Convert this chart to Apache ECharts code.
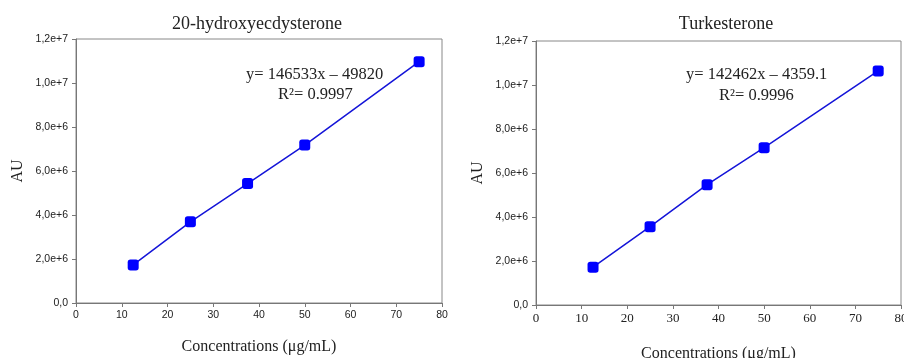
<!DOCTYPE html>
<html>
<head>
<meta charset="utf-8">
<script src="https://cdn.jsdelivr.net/npm/echarts@6/dist/echarts.min.js"></script>
<style>
  html, body { margin: 0; padding: 0; background: #fff; }
  #chart { width: 904px; height: 358px; }
</style>
</head>
<body>
<div id="chart"></div>
<script>
// concentrations (µg/mL)
var concentrations = [12.5, 25, 37.5, 50, 75];
// peak areas
var hydroxyecdysone = [1.73e6, 3.69e6, 5.43e6, 7.18e6, 10.97e6];
var turkesterone = [1.72e6, 3.56e6, 5.47e6, 7.15e6, 10.64e6];
var titles = ["20-hydroxyecdysterone", "Turkesterone"];
var equations = ["y= 146533x \u2013 49820", "y= 142462x \u2013 4359.1"];
var r2Labels = ["R\u00b2= 0.9997", "R\u00b2= 0.9996"];

var serif = "'Liberation Serif', 'DejaVu Serif', serif";
var sans = "'Liberation Sans', Arial, sans-serif";

function pairs(xs, ys) {
  return xs.map(function (x, i) { return [x, ys[i]]; });
}

function yFmt(v) {
  if (v === 0) return "0,0";
  return v.toExponential(1).replace(".", ",");
}

var myChart = echarts.init(document.getElementById("chart"));

function xAxisCfg(idx, labelFont, gap) {
  return {
    type: "value",
    gridIndex: idx,
    min: 0,
    max: 80,
    interval: 10,
    name: "Concentrations (\u03bcg/mL)",
    nameLocation: "middle",
    nameGap: gap,
    nameTextStyle: { fontFamily: serif, fontSize: 16, color: "#222" },
    axisLine: { show: true, lineStyle: { color: "#777", width: 1 } },
    axisTick: { show: true, length: 4, lineStyle: { color: "#777" } },
    axisLabel: { fontFamily: labelFont, fontSize: labelFont === serif ? 13 : 10.5, color: "#222", margin: 7 },
    splitLine: { show: false }
  };
}

function yAxisCfg(idx) {
  return {
    type: "value",
    gridIndex: idx,
    min: 0,
    max: 12000000,
    interval: 2000000,
    name: "AU",
    nameLocation: "middle",
    nameGap: 50,
    nameTextStyle: { fontFamily: serif, fontSize: 16, color: "#222" },
    axisLine: { show: true, lineStyle: { color: "#777", width: 1 } },
    axisTick: { show: true, length: 4, lineStyle: { color: "#777" } },
    axisLabel: { fontFamily: sans, fontSize: 10.5, color: "#222", margin: 8, formatter: yFmt },
    splitLine: { show: false }
  };
}

function seriesCfg(idx, data) {
  return {
    type: "line",
    xAxisIndex: idx,
    yAxisIndex: idx,
    data: pairs(concentrations, data),
    symbol: "roundRect",
    symbolSize: 11,
    itemStyle: { color: "#0000ff" },
    lineStyle: { color: "#1414d8", width: 1.5 },
    animation: false
  };
}

var option = {
  backgroundColor: "#fff",
  title: [
    { text: titles[0], left: 252, top: 10, textAlign: "center",
      textStyle: { fontFamily: serif, fontSize: 18, fontWeight: "normal", color: "#222" } },
    { text: titles[1], left: 721, top: 10, textAlign: "center",
      textStyle: { fontFamily: serif, fontSize: 18, fontWeight: "normal", color: "#222" } }
  ],
  grid: [
    { left: 76, right: 462, top: 39, bottom: 55, show: true, borderColor: "#888", borderWidth: 1,
      outerBoundsMode: "none", containLabel: false },
    { left: 536, right: 3, top: 41, bottom: 53, show: true, borderColor: "#888", borderWidth: 1,
      outerBoundsMode: "none", containLabel: false }
  ],
  xAxis: [xAxisCfg(0, sans, 36), xAxisCfg(1, serif, 41)],
  yAxis: [yAxisCfg(0), yAxisCfg(1)],
  series: [seriesCfg(0, hydroxyecdysone), seriesCfg(1, turkesterone)],
  graphic: [
    { type: "text", left: 246, top: 66, style: { text: equations[0], font: "16.5px " + serif, fill: "#222" } },
    { type: "text", left: 278, top: 86, style: { text: r2Labels[0], font: "16.5px " + serif, fill: "#222" } },
    { type: "text", left: 686, top: 66, style: { text: equations[1], font: "16.5px " + serif, fill: "#222" } },
    { type: "text", left: 719, top: 87, style: { text: r2Labels[1], font: "16.5px " + serif, fill: "#222" } }
  ]
};

myChart.setOption(option);
</script>
</body>
</html>
